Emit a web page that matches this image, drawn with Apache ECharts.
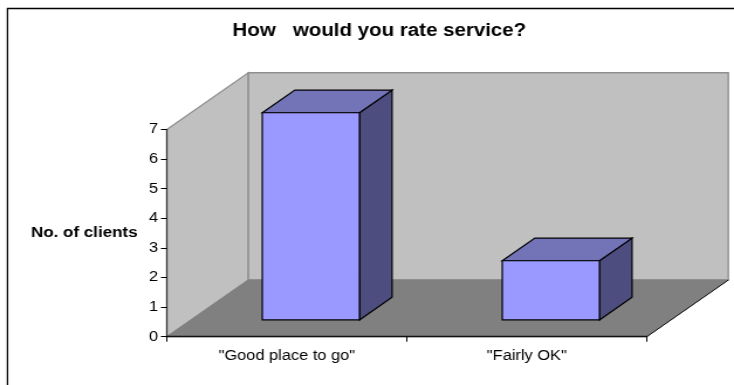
<!DOCTYPE html>
<html><head><meta charset="utf-8">
<style>html,body{margin:0;padding:0;background:#fff;overflow:hidden}#c{width:627px;height:385px;transform:scaleX(1.1707);transform-origin:0 0}</style>
<script src="https://cdn.jsdelivr.net/npm/echarts@6/dist/echarts.min.js"></script>
</head><body><div id="c"></div>
<script>
const categories = ['"Good place to go"', '"Fairly OK"'];
const clients = [7, 2];
const valueTicks = [0, 1, 2, 3, 4, 5, 6, 7];
const titleText = 'How   would you rate service?';
const yName = 'No. of clients';

const SX = 734 / 627;
const px = x => x / SX;
const DEPTH = [px(81.5), -56.7], FRONT_GAP = 0.295, BAR_DEPTH = 0.4, BAR_W = 0.405;
const shift = (p, t) => [p[0] + DEPTH[0] * t, p[1] + DEPTH[1] * t];

function poly(points, fill, stroke, lw) {
  return { type: 'polygon', shape: { points }, style: { fill, stroke, lineWidth: lw, lineJoin: 'miter' } };
}
function renderWalls(params, api) {
  const yMax = valueTicks[valueTicks.length - 1];
  const band = api.size([1, 0])[0];
  const c0 = api.coord([0, 0]);
  const A = [c0[0] - band / 2, c0[1]];
  const B = [A[0] + band * categories.length, c0[1]];
  const T = [A[0], api.coord([0, yMax])[1]];
  const a = shift(A, 1), b = shift(B, 1), t = shift(T, 1), u = [b[0], t[1]];
  return { type: 'group', children: [
    poly([T, t, a, A], '#c0c0c0', '#8f8f8f', 1.2),
    poly([t, u, b, a], '#c0c0c0', '#8f8f8f', 1.4),
    poly([A, B, b, a], '#808080', '#808080', 1),
    { type: 'polyline', shape: { points: [B, b] }, style: { stroke: '#111', lineWidth: 1, fill: null } }
  ]};
}
function renderBar(params, api) {
  const v = api.value(1);
  const band = api.size([1, 0])[0];
  const base = api.coord([api.value(0), 0]);
  const L = [base[0] - band * BAR_W / 2, base[1]], R = [base[0] + band * BAR_W / 2, base[1]];
  const top = api.coord([api.value(0), v])[1];
  const fbl = shift(L, FRONT_GAP), fbr = shift(R, FRONT_GAP);
  const ftl = shift([L[0], top], FRONT_GAP), ftr = shift([R[0], top], FRONT_GAP);
  const bbr = shift(R, FRONT_GAP + BAR_DEPTH), btl = shift([L[0], top], FRONT_GAP + BAR_DEPTH), btr = shift([R[0], top], FRONT_GAP + BAR_DEPTH);
  const K = '#000';
  return { type: 'group', children: [
    poly([fbr, bbr, btr, ftr], '#4d4d80', K, 1.2),
    poly([ftl, btl, btr, ftr], '#7373b8', K, 1.2),
    poly([ftl, ftr, fbr, fbl], '#9999ff', K, 1.2)
  ]};
}
const chart = echarts.init(document.getElementById('c'), null, { renderer: 'canvas' });
const font = 'Liberation Sans, Arial, sans-serif';
chart.setOption({
  animation: false,
  backgroundColor: '#fff',
  graphic: [{ type: 'polyline', shape: { points: [[px(7.5), 400], [px(7.5), 8.5], [700, 8.5]] }, style: { fill: null, stroke: '#000', lineWidth: 1.3 }, z: 0, silent: true }],
  title: { text: titleText, left: px(373.5), top: 17, textAlign: 'center',
    textStyle: { fontFamily: font, fontSize: 17.5, fontWeight: 'bold', color: '#000' } },
  grid: { left: px(166.8), width: px(480), top: 129.5, height: 207.2, outerBoundsMode: 'none' },
  xAxis: { type: 'category', data: categories, boundaryGap: true, z: 5,
    axisLine: { lineStyle: { color: '#111', width: 1.4 } },
    axisTick: { show: true, length: 5, alignWithLabel: false, lineStyle: { color: '#000' } },
    axisLabel: { fontFamily: font, fontSize: 14, color: '#000', margin: 12, hideOverlap: false } },
  yAxis: { type: 'value', min: 0, max: 7, interval: 1, z: 5,
    splitLine: { show: false },
    name: yName, nameLocation: 'middle', nameRotate: 0, nameGap: 25, nameMoveOverlap: false,
    nameTextStyle: { fontFamily: font, fontSize: 14.5, fontWeight: 'bold', color: '#000', padding: [2, 0, 0, 0] },
    axisLine: { show: true, lineStyle: { color: '#333', width: 1.2 } },
    axisTick: { show: true, length: 5, lineStyle: { color: '#000' } },
    axisLabel: { fontFamily: font, fontSize: 14, color: '#000', margin: 7.5 } },
  series: [
    { type: 'custom', renderItem: renderWalls, data: [[0, 0]], silent: true, z: 1, clip: false },
    { type: 'custom', renderItem: renderBar, data: clients.map((v, i) => [i, v]), silent: true, z: 2, clip: false, encode: { x: 0, y: 1 } }
  ]
});
</script></body></html>
